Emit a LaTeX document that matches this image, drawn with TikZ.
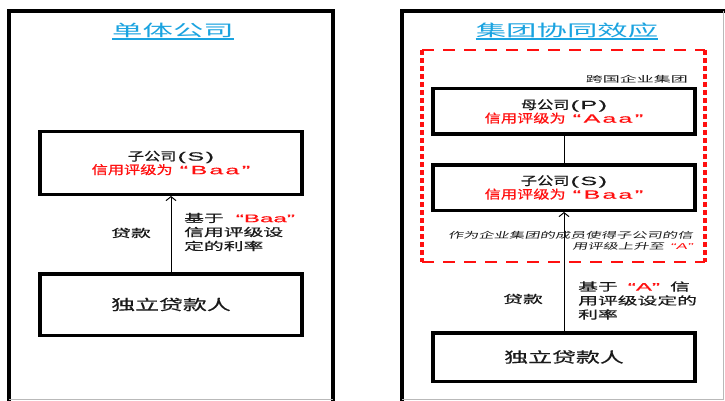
\documentclass[tikz,border=0pt]{standalone}
\usepackage{fontspec}
\usetikzlibrary{arrows.meta,calc}
\newfontfamily\fBody{Noto Sans CJK SC}[FakeStretch=1.35,FakeBold=0.8]
\newfontfamily\fLab{Noto Sans CJK SC}[FakeStretch=1.8,FakeBold=0.6]
\newfontfamily\fTitle{Noto Sans CJK SC}[FakeStretch=1.9]
\newfontfamily\fLend{Noto Sans CJK SC}[FakeStretch=1.65,FakeBold=0.6]
\newfontfamily\fNote{Noto Sans CJK SC}[FakeStretch=1.8,FakeSlant=0.22]
\newfontfamily\fSmall{Noto Sans CJK SC}[FakeStretch=2.0]
\newfontfamily\latB{Liberation Sans}[FakeStretch=2.1,FakeBold=0.4]
\newfontfamily\latL{Liberation Sans}[FakeStretch=2.2,FakeBold=0.4]
\newfontfamily\latN{Liberation Sans}[FakeStretch=2.0,FakeSlant=0.22]
\definecolor{ttl}{HTML}{1AA3E0}
\definecolor{ink}{HTML}{1A1A1A}
\definecolor{rd}{HTML}{FF1010}
\begin{document}
\begin{tikzpicture}[x=1pt,y=-1pt,
  frame/.style={line width=4pt,line cap=rect},
  edgegray/.style={gray!55,line width=1pt},
  titletext/.style={inner sep=0pt,text=ttl,font=\fTitle\fontsize{16}{18}\selectfont},
  uline/.style={ttl,line width=1.6pt},
  firm/.style={draw=black,line width=3.5pt,inner sep=0pt,align=center,text=ink,
    minimum width=262pt,font=\fBody\fontsize{12}{12}\selectfont},
  lender/.style={firm,font=\fLend\fontsize{14.5}{16}\selectfont},
  lab/.style={inner sep=0pt,align=left,text=ink,font=\fLab\fontsize{11}{14}\selectfont},
  note/.style={inner sep=0pt,align=right,text=ink,font=\fNote\fontsize{8.5}{11}\selectfont},
  small/.style={inner sep=0pt,text=ink,font=\fSmall\fontsize{8.5}{10}\selectfont},
  conn/.style={line width=1pt},
  arr/.style={conn,-{Straight Barb[length=4pt,width=10pt,line width=1pt]}},
  dashh/.style={rd,line width=2.2pt,dash pattern=on 12pt off 9pt},
  dashv/.style={rd,line width=4pt,dash pattern=on 5pt off 3pt}]
\useasboundingbox (0,0) rectangle (725,401);
\fill[white] (0,0) rectangle (725,401);

% ---------- left panel ----------
\draw[frame] (9,399) -- (9,11) -- (333,11) -- (333,399);
\draw[edgegray] (9,399.5) -- (333,399.5);
\node[titletext] (t1) at (173,30) {单体公司};
\draw[uline] ($(t1.south west)+(0,1.5)$) -- ($(t1.south east)+(0,1.5)$);

\node[firm,minimum height=62.5pt] (s1) at (171,163)
  {子公司{\latB\kern1pt(\kern1.5pt S\kern1.5pt)}\\\color{rd}信用评级为\hspace{7pt}{\latB“\kern2.5pt B\kern2pt a\kern2pt a\kern2.5pt”}};
\node[lender,minimum height=61.5pt] (l1) at (171,304.5) {独立贷款人};
\draw[arr] (l1.north) -- (s1.south);
\node[lab,anchor=center] (d1) at (131,233) {贷款};
\node[lab,anchor=west] (r1) at (184,232) {基于\hspace{12pt}{\color{rd}\latL“Baa”}\\信用评级设\\定的利率};

% ---------- right panel ----------
\draw[frame] (402,399) -- (402,11) -- (725,11);
\draw[edgegray] (723,11) -- (723,399.5) -- (402,399.5);
\node[titletext] (t2) at (567,30) {集团协同效应};
\draw[uline] ($(t2.south west)+(0,1.5)$) -- ($(t2.south east)+(0,1.5)$);

\draw[dashh] (422,50) -- (705,50);
\draw[dashh] (422,262) -- (705,262);
\draw[dashv] (422,50) -- (422,262);
\draw[dashv] (705,50) -- (705,262);
\node[small,anchor=east] (g) at (688,79) {跨国企业集团};

\node[firm,minimum height=45.5pt] (p2) at (564,111.5)
  {母公司{\latB\kern1pt(\kern1.5pt P\kern1.5pt)}\\\color{rd}信用评级为\hspace{7pt}{\latB“\kern2.5pt A\kern2pt a\kern2pt a\kern2.5pt”}};
\node[firm,minimum height=45.5pt] (s2) at (564,187.5)
  {子公司{\latB\kern1pt(\kern1.5pt S\kern1.5pt)}\\\color{rd}信用评级为\hspace{7pt}{\latB“\kern2.5pt B\kern2pt a\kern2pt a\kern2.5pt”}};
\node[lender,minimum height=48.5pt] (l2) at (564,357) {独立贷款人};
\draw[conn] (p2.south) -- (s2.north);
\draw[arr] (l2.north) -- (s2.south);
\node[note,anchor=east] (n2) at (693,240.5) {作为企业集团的成员使得子公司的信\\用评级上升至\hspace{6pt}{\color{rd}\latN“A”}};
\node[lab,anchor=center] (d2) at (523,299) {贷款};
\node[lab,anchor=west] (r2) at (578,300.5) {基于\hspace{10pt}{\color{rd}\latL“A”}\hspace{10pt}信\\用评级设定的\\利率};
\end{tikzpicture}
\end{document}
